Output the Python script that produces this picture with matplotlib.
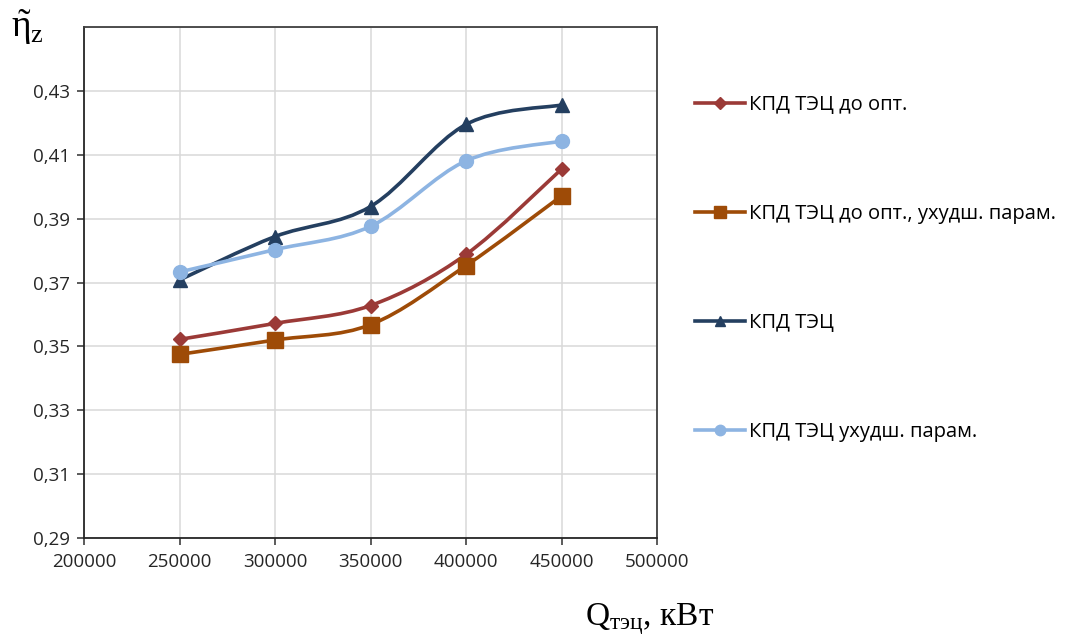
import matplotlib
matplotlib.use("Agg")
import matplotlib.pyplot as plt
from matplotlib.path import Path
from matplotlib.patches import PathPatch
from matplotlib.lines import Line2D
import numpy as np

q_tec = [250000, 300000, 350000, 400000, 450000]

kpd_do_opt = [0.3522, 0.3572, 0.3628, 0.3788, 0.4055]
kpd_do_opt_uh = [0.3475, 0.3520, 0.3568, 0.3753, 0.3971]
kpd_tec = [0.3708, 0.3844, 0.3938, 0.4195, 0.4256]
kpd_tec_uh = [0.3733, 0.3803, 0.3876, 0.4081, 0.4143]

labels = ["КПД ТЭЦ до опт.", "КПД ТЭЦ до опт., ухудш. парам.",
          "КПД ТЭЦ", "КПД ТЭЦ ухудш. парам."]
colors = ["#9B3A37", "#9E4B07", "#243F60", "#8DB4E2"]
markers = ["D", "s", "^", "o"]
msizes = [7.5, 11, 10, 10]

yticks = [0.29, 0.31, 0.33, 0.35, 0.37, 0.39, 0.41, 0.43]
xticks = [200000, 250000, 300000, 350000, 400000, 450000, 500000]

plt.rcParams['font.family'] = ['Open Sans', 'DejaVu Sans']


def smooth_path(x, y):
    # excel-style smoothed line: cubic bezier with catmull-rom control points
    pts = np.column_stack([x, y])
    n = len(pts)
    verts = [pts[0]]
    codes = [Path.MOVETO]
    for i in range(n - 1):
        p0 = pts[i - 1] if i > 0 else pts[i]
        p1 = pts[i]
        p2 = pts[i + 1]
        p3 = pts[i + 2] if i + 2 < n else pts[i + 1]
        c1 = p1 + (p2 - p0) / 6.0
        c2 = p2 - (p3 - p1) / 6.0
        verts += [c1, c2, p2]
        codes += [Path.CURVE4] * 3
    return Path(verts, codes)


fig = plt.figure(figsize=(10.73, 6.39), dpi=100)
ax = fig.add_axes([0.0783, 0.158, 0.534, 0.7997])

series = [kpd_do_opt, kpd_do_opt_uh, kpd_tec, kpd_tec_uh]
handles = []
for ys, c, m, ms, lab in zip(series, colors, markers, msizes, labels):
    patch = PathPatch(smooth_path(q_tec, ys), facecolor='none', edgecolor=c,
                      lw=2.6, zorder=3, capstyle='round', joinstyle='round')
    ax.add_patch(patch)
    ax.plot(q_tec, ys, linestyle='none', marker=m, ms=ms, color=c, zorder=4)
    handles.append(Line2D([], [], color=c, lw=2.6, marker=m, ms=ms * 0.75, label=lab))

ax.set_xlim(200000, 500000)
ax.set_ylim(0.29, 0.45)
ax.set_xticks(xticks)
ax.set_yticks(yticks)
ax.set_xticklabels([str(v) for v in xticks])
ax.set_yticklabels([("%.2f" % v).replace(".", ",") for v in yticks])
ax.grid(True, color="#D9D9D9", lw=1.1)
ax.set_axisbelow(True)
ax.axhline(0.45, color="#D9D9D9", lw=1.1, zorder=0)
ax.tick_params(labelsize=13.5, colors="#404040", length=5, width=1.2, labelcolor="#262626")
ax.tick_params(axis='y', pad=5)
ax.tick_params(axis='x', pad=6)
for s in ax.spines.values():
    s.set_color("#262626")
    s.set_linewidth(1.3)
ax.spines['top'].set_color("#404040")
ax.spines['right'].set_color("#404040")

fig.legend(handles=handles, loc='upper left', bbox_to_anchor=(0.640, 0.864),
           frameon=False, fontsize=14.5, labelspacing=4.42, handlelength=2.5,
           handletextpad=0.2, borderaxespad=0)

plt.rcParams['mathtext.fontset'] = 'custom'
plt.rcParams['mathtext.rm'] = 'Liberation Serif'
plt.rcParams['mathtext.it'] = 'Liberation Serif:italic'
fig.text(0.010, 0.942, r'$\tilde{\mathrm{\eta}}_\mathrm{z}$', fontsize=27,
         family='Liberation Serif')
fig.text(0.545, 0.022, r'$\mathrm{Q_{тэц}}$, кВт', fontsize=24,
         family='Liberation Serif')

fig.savefig("out.png", dpi=100)
